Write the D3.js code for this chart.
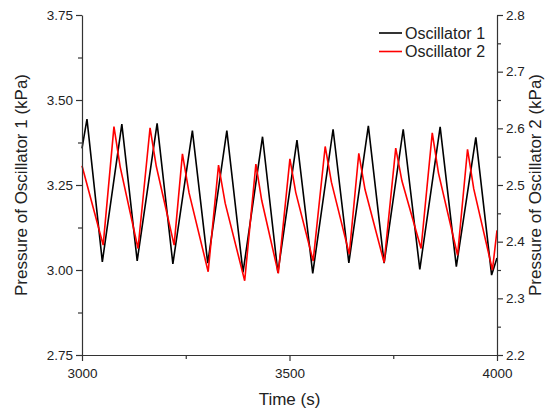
<!DOCTYPE html>
<html><head><meta charset="utf-8">
<script src="https://cdn.jsdelivr.net/npm/d3@7"></script>
<style>body{margin:0;background:#fff}svg text{font-family:Arial,"Liberation Sans",sans-serif;fill:#222}</style>
</head><body><svg id="c" width="548" height="414"></svg>
<script>
const osc1Time = [3000,3012,3049,3096,3133,3181,3219,3266,3303,3349,3388,3435,3472,3518,3556,3605,3643,3690,3728,3774,3814,3863,3902,3949,3987,4000];
const osc1Val  = [3.358,3.444,3.024,3.429,3.027,3.431,3.018,3.410,3.020,3.410,2.993,3.392,2.992,3.382,2.990,3.414,3.021,3.424,3.020,3.414,3.002,3.421,3.010,3.390,2.985,3.035];
const osc2Time = [3000,3051,3077,3092,3135,3164,3179,3222,3242,3258,3304,3329,3345,3392,3419,3433,3473,3501,3515,3557,3586,3601,3644,3667,3682,3728,3756,3771,3817,3844,3859,3905,3929,3944,3989,4000];
const osc2Val  = [2.534,2.394,2.603,2.532,2.388,2.601,2.533,2.394,2.555,2.486,2.347,2.535,2.468,2.331,2.537,2.473,2.344,2.546,2.487,2.366,2.568,2.505,2.378,2.556,2.492,2.363,2.565,2.507,2.388,2.592,2.521,2.376,2.563,2.493,2.350,2.420];
const xTicks = [3000,3500,4000];
const xMinor = [3250,3750];
const yLeftTicks = [2.75,3.00,3.25,3.50,3.75];
const yLeftMinor = [2.875,3.125,3.375,3.625];
const yRightTicks = [2.2,2.3,2.4,2.5,2.6,2.7,2.8];
const yRightMinor = [2.25,2.35,2.45,2.55,2.65,2.75];
const seriesNames = ["Oscillator 1","Oscillator 2"];
const seriesColors = ["#000000","#ff0000"];

const L=82,R=497,T=15,B=355;
const svg=d3.select("#c");
const x=d3.scaleLinear().domain([3000,4000]).range([L,R]);
const y1=d3.scaleLinear().domain([2.75,3.75]).range([B,T]);
const y2=d3.scaleLinear().domain([2.2,2.8]).range([B,T]);

const d1=osc1Time.map((t,i)=>[t,osc1Val[i]]);
const d2=osc2Time.map((t,i)=>[t,osc2Val[i]]);
svg.append("path").datum(d1).attr("fill","none").attr("stroke",seriesColors[0]).attr("stroke-width",1.6)
  .attr("d",d3.line().x(d=>x(d[0])).y(d=>y1(d[1])));
svg.append("path").datum(d2).attr("fill","none").attr("stroke",seriesColors[1]).attr("stroke-width",1.6)
  .attr("d",d3.line().x(d=>x(d[0])).y(d=>y2(d[1])));

function styleAxis(g){g.selectAll("path,line").attr("stroke","#333").attr("stroke-width",1.2);g.selectAll("text").attr("font-size",13.5).attr("fill","#222").attr("font-family","Arial, 'Liberation Sans', sans-serif");}
// minor
svg.append("g").attr("transform",`translate(0,${B})`).call(d3.axisBottom(x).tickValues(xMinor).tickSize(4).tickFormat("")).call(g=>g.select(".domain").remove()).call(styleAxis);
svg.append("g").attr("transform",`translate(${L},0)`).call(d3.axisLeft(y1).tickValues(yLeftMinor).tickSize(4).tickFormat("")).call(g=>g.select(".domain").remove()).call(styleAxis);
svg.append("g").attr("transform",`translate(${R},0)`).call(d3.axisRight(y2).tickValues(yRightMinor).tickSize(4).tickFormat("")).call(g=>g.select(".domain").remove()).call(styleAxis);
// major
svg.append("g").attr("transform",`translate(0,${B})`).call(d3.axisBottom(x).tickValues(xTicks).tickSize(6).tickSizeOuter(0).tickPadding(7).tickFormat(d3.format("d"))).call(styleAxis);
svg.append("g").attr("transform",`translate(${L},0)`).call(d3.axisLeft(y1).tickValues(yLeftTicks).tickSize(6).tickSizeOuter(0).tickPadding(3).tickFormat(d3.format(".2f"))).call(styleAxis);
svg.append("g").attr("transform",`translate(${R},0)`).call(d3.axisRight(y2).tickValues(yRightTicks).tickSize(6).tickSizeOuter(0).tickPadding(3).tickFormat(d3.format(".1f"))).call(styleAxis);

svg.append("text").attr("x",(L+R)/2).attr("y",405).attr("text-anchor","middle").attr("font-size",17).text("Time (s)");
svg.append("text").attr("transform",`translate(27,${(T+B)/2}) rotate(-90)`).attr("text-anchor","middle").attr("font-size",17).text("Pressure of Oscillator 1 (kPa)");
svg.append("text").attr("transform",`translate(541,${(T+B)/2}) rotate(-90)`).attr("text-anchor","middle").attr("font-size",17).text("Pressure of Oscillator 2 (kPa)");

const lg=svg.append("g");
seriesNames.forEach((n,i)=>{
  const yy=33+i*18.5;
  lg.append("line").attr("x1",379).attr("x2",402).attr("y1",yy).attr("y2",yy).attr("stroke",seriesColors[i]).attr("stroke-width",1.6);
  lg.append("text").attr("x",405).attr("y",yy+5.5).attr("font-size",16).text(n);
});
</script></body></html>
